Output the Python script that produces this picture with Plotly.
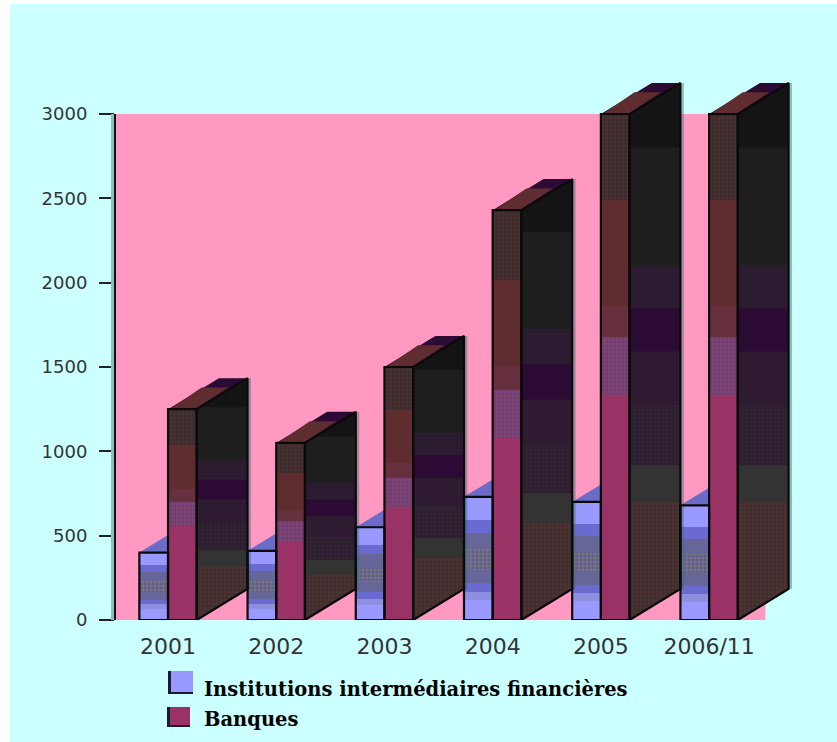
import plotly.graph_objects as go

# Chart data
categories = ["2001", "2002", "2003", "2004", "2005", "2006/11"]
institutions = [400, 410, 550, 730, 700, 680]
banques = [1250, 1050, 1500, 2430, 3000, 3000]
name_institutions = "Institutions intermédiaires financières"
name_banques = "Banques"
y_ticks = [0, 500, 1000, 1500, 2000, 2500, 3000]

# Canvas and plot placement; the plot area leaves room for the bars' depth
W, H = 837, 742
L, R, T, B = 115, 800, 70, 620
Y_TOP = 3000 * (B - T) / 506
X_MIN, X_MAX = -0.49, 5.84
PANEL_RIGHT = 5.52

# Oblique projection of the bars: depth in axis units, face width in category units
BAR_W = 0.265
DEPTH_X = 0.47
DEPTH_Y = 184

# Colour ramps: (start fraction, end fraction, colour, dotted?)
FRONT_BLUE = [
    (0.00, 0.16, "#9999ff", False), (0.16, 0.23, "#8f8fe0", False),
    (0.23, 0.30, "#6a6ad0", False), (0.30, 0.41, "#666699", False),
    (0.41, 0.575, "#75757f", True), (0.575, 0.71, "#666699", False),
    (0.71, 0.81, "#6a6ad0", False), (0.81, 1.00, "#9999ff", False),
]
FRONT_RED = [
    (0.00, 0.445, "#993366", False), (0.445, 0.56, "#7a3a68", True),
    (0.56, 0.62, "#66303f", False), (0.62, 0.83, "#5f2d30", False),
    (0.83, 1.00, "#47302f", True),
]
SIDE_RED = [
    (0.00, 0.22, "#3d2f2f", True), (0.22, 0.288, "#333333", False),
    (0.288, 0.40, "#2c262c", True), (0.40, 0.50, "#2a1f2c", True),
    (0.50, 0.58, "#2b0a33", False), (0.58, 0.66, "#27202a", True),
    (0.66, 0.88, "#1e1e1e", False), (0.88, 1.00, "#141414", False),
]
DOT_COLORS = {"#75757f": "#4a3fb0", "#7a3a68": "#6a5a9a", "#47302f": "#2b2530",
              "#3d2f2f": "#6a3432", "#2c262c": "#3a0a45", "#2a1f2c": "#3a0a45",
              "#27202a": "#3a0a45"}
DARK = "#0a0a0a"
TOP_BACK = "#2b0a33"
TOP_FRONT = "#5f2d30"
TOP_BLUE = "#6b6bc8"
PANEL = "#ff99c2"
GROUND = "#ccffff"
BAND_OVERLAP = 5


def px(x):
    return (x - L) / (R - L)


def py(y):
    return (B - y) / (B - T)


def clip_strip(points, low, high):
    """Clip a polygon to the horizontal strip low <= y <= high."""
    def clip(pts, inside, limit):
        out = []
        for i, (x0, y0) in enumerate(pts):
            x1, y1 = pts[(i + 1) % len(pts)]
            if inside(y0):
                out.append((x0, y0))
            if inside(y0) != inside(y1):
                t = (limit - y0) / (y1 - y0)
                out.append((x0 + t * (x1 - x0), limit))
        return out
    pts = clip(points, lambda y: y >= low, low)
    return clip(pts, lambda y: y <= high, high) if pts else pts


def join_polys(polys):
    xs, ys = [], []
    for poly in polys:
        closed = list(poly) + [poly[0]]
        xs += [p[0] for p in closed] + [None]
        ys += [p[1] for p in closed] + [None]
    return xs, ys


def poly_trace(polys, color, dotted=False):
    xs, ys = join_polys(polys)
    kw = {}
    if dotted:
        kw["fillpattern"] = dict(shape=".", size=4, solidity=0.4,
                                 fgcolor=DOT_COLORS[color], bgcolor=color)
    return go.Scatter(x=xs, y=ys, mode="none", fill="toself", fillcolor=color,
                      showlegend=False, hoverinfo="skip", **kw)


def front_bars(values, offset, ramp, name):
    traces = []
    for f0, f1, color, dotted in ramp:
        marker = dict(color=color, line=dict(width=0))
        if dotted:
            marker["pattern"] = dict(shape=".", size=4, solidity=0.4,
                                     fgcolor=DOT_COLORS[color], bgcolor=color)
        traces.append(go.Bar(x=list(range(len(values))), y=[v * (f1 - f0) for v in values],
                             base=[v * f0 for v in values], width=BAR_W, offset=offset,
                             marker=marker, name=name, showlegend=False))
    return traces


fig = go.Figure()

# Front faces
for tr in front_bars(institutions, -BAR_W, FRONT_BLUE, name_institutions):
    fig.add_trace(tr)
for tr in front_bars(banques, 0, FRONT_RED, name_banques):
    fig.add_trace(tr)

positions = list(range(len(categories)))

# Sliver of the top of the short bars, hidden behind the taller neighbour
slivers = [[(i - BAR_W, v), (i, v), (i, v + BAR_W * DEPTH_Y / DEPTH_X)]
           for i, v in zip(positions, institutions)]
fig.add_trace(poly_trace(slivers, TOP_BLUE))

# Depth faces of the tall bars, shaded in horizontal bands
sides = [[(i + BAR_W, 0), (i + BAR_W + DEPTH_X, DEPTH_Y),
          (i + BAR_W + DEPTH_X, v + DEPTH_Y), (i + BAR_W, v)]
         for i, v in zip(positions, banques)]
for f0, f1, color, dotted in SIDE_RED:
    polys = []
    for poly, v in zip(sides, banques):
        span = v + DEPTH_Y
        piece = clip_strip(poly, f0 * span, min(f1 * span + BAND_OVERLAP, span))
        if piece:
            polys.append(piece)
    fig.add_trace(poly_trace(polys, color, dotted))

# Top faces: dark rim at the back, lit part towards the front
tops_back = [[(i, v), (i + BAR_W, v), (i + BAR_W + DEPTH_X, v + DEPTH_Y), (i + DEPTH_X, v + DEPTH_Y)]
             for i, v in zip(positions, banques)]
tops_front = [[(i + 0.03, v + 6), (i + BAR_W, v + 6),
               (i + BAR_W + 0.62 * DEPTH_X, v + 0.7 * DEPTH_Y),
               (i + 0.66 * DEPTH_X, v + 0.7 * DEPTH_Y)]
              for i, v in zip(positions, banques)]
fig.add_trace(poly_trace(tops_back, TOP_BACK))
fig.add_trace(poly_trace(tops_front, TOP_FRONT))

# Soft shadow along the back edge of each depth face
sx, sy = [], []
for i, v in zip(positions, banques):
    sx += [i + BAR_W + DEPTH_X + 0.02] * 2 + [None]
    sy += [DEPTH_Y, v + DEPTH_Y, None]
fig.add_trace(go.Scatter(x=sx, y=sy, mode="lines", showlegend=False,
                         line=dict(color="rgba(50,110,120,0.45)", width=2.5), hoverinfo="skip"))

# Outlines
ox, oy = join_polys(
    [[(i - BAR_W, 0), (i - BAR_W, a), (i, a), (i, 0)] for i, a in zip(positions, institutions)]
    + [[(i, 0), (i, v), (i + BAR_W, v), (i + BAR_W, 0)] for i, v in zip(positions, banques)]
    + [s for s in sides]
)
fig.add_trace(go.Scatter(x=ox, y=oy, mode="lines", showlegend=False,
                         line=dict(color=DARK, width=2.2), hoverinfo="skip"))


# Legend swatches with their dark bevel
def swatch(x0, y0, x1, y1, color):
    return [
        dict(type="rect", xref="paper", yref="paper", layer="above", line_width=0,
             x0=px(x0), x1=px(x1), y0=py(y1), y1=py(y0), fillcolor="#1a1a33"),
        dict(type="rect", xref="paper", yref="paper", layer="above", line_width=0,
             x0=px(x0 + 3), x1=px(x1), y0=py(y1 - 2), y1=py(y0), fillcolor=color),
    ]


shapes = [
    dict(type="rect", xref="paper", yref="paper", layer="below", line_width=0,
         x0=px(10), x1=px(W + 2), y0=py(H + 2), y1=py(4), fillcolor=GROUND),
    dict(type="rect", xref="x", yref="y", layer="below", line_width=0,
         x0=X_MIN, x1=PANEL_RIGHT, y0=0, y1=3000, fillcolor=PANEL),
    dict(type="line", xref="paper", yref="y", layer="above",
         x0=px(112.5), x1=px(112.5), y0=0, y1=3000, line=dict(color="#8fbcbc", width=3)),
    dict(type="line", xref="paper", yref="y", layer="above",
         x0=0, x1=0, y0=0, y1=3000, line=dict(color="#111111", width=2)),
]
shapes += swatch(168, 671, 193, 694, "#9999ff")
shapes += swatch(167, 707, 190, 727, "#993366")

legend_font = dict(family="DejaVu Serif", size=19.5, color="#000000", weight="bold")
annotations = [
    dict(text=name_institutions, x=px(202), y=py(689), xref="paper", yref="paper",
         xanchor="left", yanchor="middle", showarrow=False, font=legend_font),
    dict(text=name_banques, x=px(202), y=py(719), xref="paper", yref="paper",
         xanchor="left", yanchor="middle", showarrow=False, font=legend_font),
]

fig.update_layout(
    width=W, height=H, autosize=False,
    margin=dict(l=L, r=W - R, t=T, b=H - B, pad=0),
    paper_bgcolor="#ffffff", plot_bgcolor="rgba(0,0,0,0)",
    barmode="overlay", showlegend=False, bargap=0,
    shapes=shapes, annotations=annotations,
    font=dict(family="DejaVu Sans", color="#333333"),
    xaxis=dict(range=[X_MIN, X_MAX], tickmode="array", tickvals=positions, ticktext=categories,
               showgrid=False, zeroline=False, showline=False, ticks="",
               ticklabelstandoff=11, tickfont=dict(size=22, color="#333333")),
    yaxis=dict(range=[0, Y_TOP], tickmode="array", tickvals=y_ticks,
               ticktext=[str(t) for t in y_ticks],
               showgrid=False, zeroline=False, showline=False, ticks="outside",
               ticklen=15, tickwidth=2, tickcolor="#222222",
               ticklabelstandoff=8, tickfont=dict(size=18, color="#333333")),
)

fig.write_html("out.html")
